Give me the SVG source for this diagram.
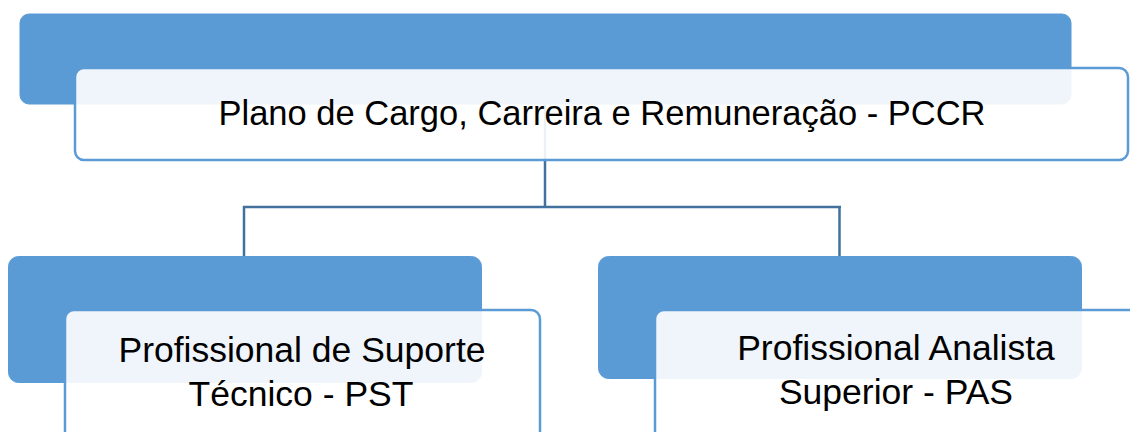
<svg xmlns="http://www.w3.org/2000/svg" width="1130" height="432" viewBox="0 0 1130 432">
<style>
.back{fill:#5B9BD5;stroke:#5B9BD5;stroke-width:1}
.front{fill:#FFFFFF;fill-opacity:0.9;stroke:#5B9BD5;stroke-width:2.5}
.lbl{font-family:"Liberation Sans",Arial,sans-serif;fill:#000000;text-anchor:middle}
.conn{fill:none;stroke:#41719C;stroke-width:2.5}
</style>
<rect width="1130" height="432" fill="#FFFFFF"/>
<g id="connectors">
<path class="conn" d="M545,100 V207 M243,207 H841 M244,206 V256 M839.5,206 V256"/>
</g>
<g id="node-pccr">
<rect class="back" x="20" y="14" width="1051" height="90" rx="9"/>
<rect class="front" x="75" y="68" width="1053" height="92" rx="9"/>
<text class="lbl" x="602" y="125" font-size="34.5">Plano de Cargo, Carreira e Remuneração - PCCR</text>
</g>
<g id="node-pst">
<rect class="back" x="8.5" y="256.5" width="473" height="126" rx="10"/>
<rect class="front" x="65" y="310" width="475" height="140" rx="9"/>
<text class="lbl" x="302" y="362" font-size="35.5">Profissional de Suporte</text>
<text class="lbl" x="301" y="406" font-size="35.5">Técnico - PST</text>
</g>
<g id="node-pas">
<rect class="back" x="598.5" y="256.5" width="483" height="122" rx="10"/>
<rect class="front" x="655" y="310" width="490" height="140" rx="9"/>
<text class="lbl" x="896" y="360" font-size="35.5">Profissional Analista</text>
<text class="lbl" x="896" y="404" font-size="35.5">Superior - PAS</text>
</g>
</svg>
